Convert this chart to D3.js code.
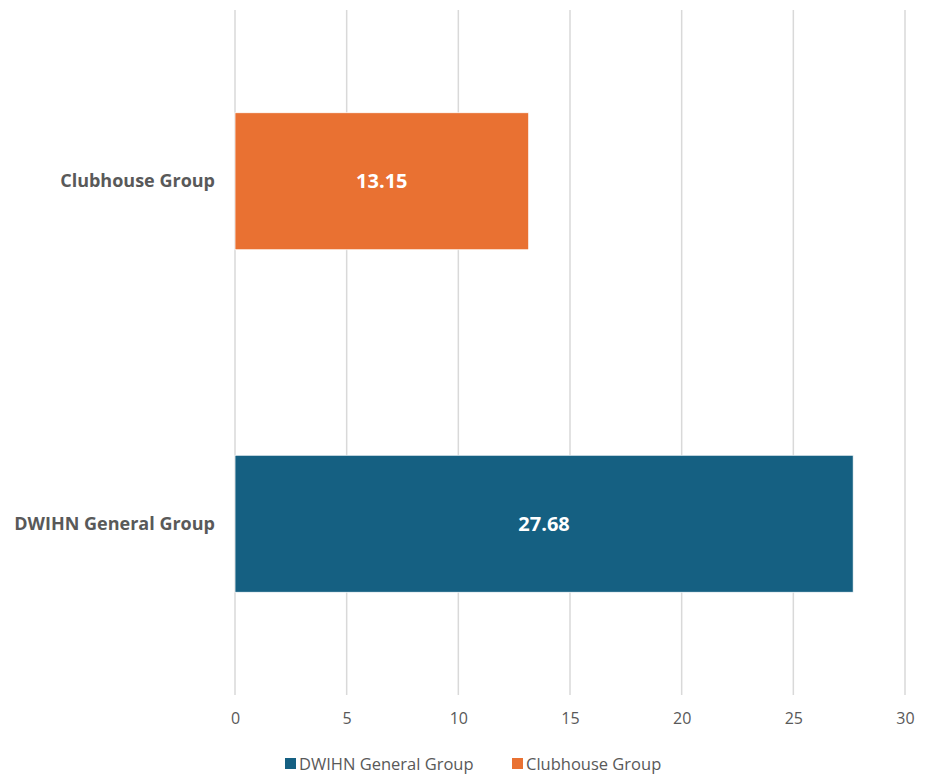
<!DOCTYPE html>
<html>
<head>
<meta charset="utf-8">
<script src="https://cdn.jsdelivr.net/npm/d3@7"></script>
<style>
  body { margin: 0; background: #fff; }
  svg text { font-family: "Open Sans", "Noto Sans", sans-serif; }
</style>
</head>
<body>
<div id="chart"></div>
<script>
// chart data
var categories = ['DWIHN General Group', 'Clubhouse Group'];
var values = [27.68, 13.15];
var colors = ['#156082', '#E97132'];
var xTicks = [0, 5, 10, 15, 20, 25, 30];

var width = 925;
var height = 774;
var margin = { top: 10, right: 20, bottom: 79, left: 235 };

var svg = d3.select('#chart')
    .append('svg')
    .attr('width', width)
    .attr('height', height);

var x = d3.scaleLinear()
    .domain([0, 30])
    .range([margin.left, 905]);

// first category goes to the bottom, like Excel
var y = d3.scaleBand()
    .domain(categories.slice().reverse())
    .range([margin.top, height - margin.bottom])
    .paddingInner(0.6)
    .paddingOuter(0.3);

// gridlines
svg.append('g')
    .selectAll('line')
    .data(xTicks)
    .join('line')
    .attr('x1', d => x(d))
    .attr('x2', d => x(d))
    .attr('y1', margin.top)
    .attr('y2', height - margin.bottom)
    .attr('stroke', '#d9d9d9')
    .attr('stroke-width', 1.5);

// bars
svg.append('g')
    .selectAll('rect')
    .data(categories)
    .join('rect')
    .attr('x', x(0))
    .attr('y', d => y(d))
    .attr('width', (d, i) => x(values[i]) - x(0))
    .attr('height', y.bandwidth())
    .attr('fill', (d, i) => colors[i])
    .attr('stroke', '#fff')
    .attr('stroke-width', 0.75);

// value labels
svg.append('g')
    .selectAll('text')
    .data(categories)
    .join('text')
    .attr('x', (d, i) => (x(0) + x(values[i])) / 2)
    .attr('y', d => y(d) + y.bandwidth() / 2)
    .attr('dy', '0.35em')
    .attr('text-anchor', 'middle')
    .attr('font-size', '20px')
    .attr('font-weight', 'bold')
    .attr('fill', '#fff')
    .text((d, i) => values[i].toFixed(2));

// category labels
var yAxis = svg.append('g')
    .attr('transform', `translate(${margin.left - 20}, 0)`)
    .call(d3.axisLeft(y).tickSize(0).tickPadding(0));
yAxis.select('.domain').remove();
yAxis.selectAll('text')
    .attr('font-size', '18px')
    .attr('font-weight', 'bold')
    .attr('fill', '#595959')
    .style('font-family', '"Open Sans", sans-serif');

// x axis labels
var xAxis = svg.append('g')
    .attr('transform', `translate(0, ${height - margin.bottom})`)
    .call(d3.axisBottom(x).tickValues(xTicks).tickSize(0).tickPadding(18));
xAxis.select('.domain').remove();
xAxis.selectAll('text')
    .attr('font-size', '16px')
    .attr('fill', '#595959')
    .style('font-family', '"Open Sans", sans-serif');

// legend
var legendX = [285, 512];
var legend = svg.append('g')
    .selectAll('g')
    .data(categories)
    .join('g')
    .attr('transform', (d, i) => `translate(${legendX[i]}, 764)`);
legend.append('rect')
    .attr('x', 0)
    .attr('y', -6)
    .attr('width', 11)
    .attr('height', 11)
    .attr('fill', (d, i) => colors[i]);
legend.append('text')
    .attr('x', 14)
    .attr('y', 0)
    .attr('dy', '0.35em')
    .attr('font-size', '16.5px')
    .attr('fill', '#595959')
    .text(d => d);
</script>
</body>
</html>
